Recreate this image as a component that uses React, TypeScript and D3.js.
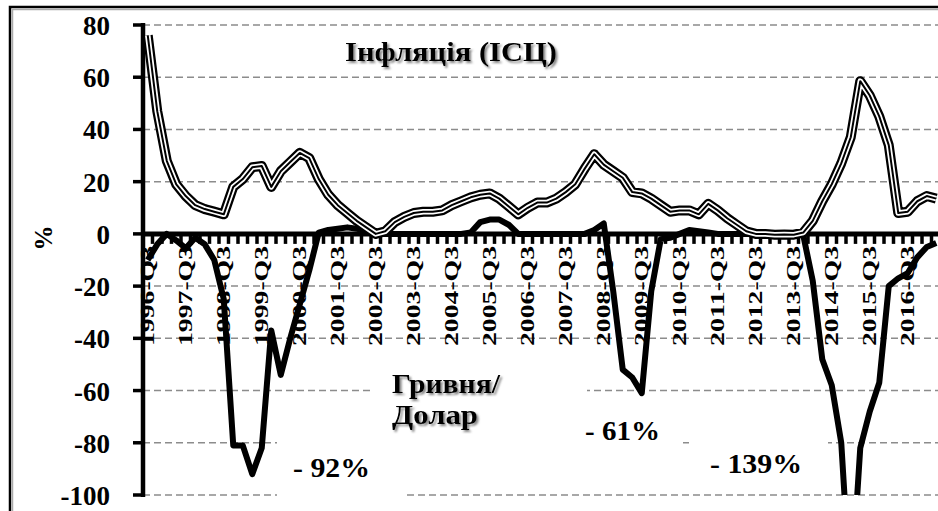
import React from "react";
import * as d3 from "d3";

// quarterly values, 1996-Q3 .. 2017-Q2, % y/y
const inflation = [
  76, 47, 28, 19, 14.5, 11, 9.5, 8.5, 7.5, 18, 21, 25.5, 26, 18, 24, 27.5,
  31, 29, 21, 15, 11, 8, 5, 2.5, 0, 1, 4.5, 6.5, 8, 8.5, 8.5, 9,
  11, 12.5, 14, 15, 15.5, 13.5, 10.5, 7.5, 10, 12, 12, 13.5, 16, 19, 25, 30.5,
  26.5, 24, 21.5, 16, 15.5, 13.5, 11, 8.5, 9, 9, 7.5, 11.5, 9, 6, 3.5, 1,
  0, 0, -0.3, -0.2, -0.3, 0.5, 5, 12.5, 19, 27, 37, 58.5, 53, 45, 34, 8,
  8.5, 12.5, 14.5, 13.5,
];

const hryvnia = [
  -10, -4, 0, -2.5, -5.5, -1.5, -4, -10, -25, -81, -81, -92, -82, -37, -54, -40,
  -27, -14, 0.5, 1.5, 2, 2.5, 2, 1, 0, 0, 0, 0, 0, 0, 0, 0,
  0, 0, 0.5, 4.5, 5.5, 5.5, 3.5, 0, 0, 0, 0, 0, 0, 0, 0, 1.5,
  4, -22, -52, -55, -61, -22, -2, -1.5, 0, 1.5, 1, 0.5, 0, 0, 0, 0,
  0, 0, 0, 0, 0, -0.5, -18, -48, -58, -80, -139, -82, -68, -57, -20, -17,
  -15, -9, -5, -3.5,
];

const yTicks = [80, 60, 40, 20, 0, -20, -40, -60, -80, -100];

const quarters = inflation.map((_, i) => {
  const k = i + 2;
  return `${1996 + Math.floor(k / 4)}-Q${(k % 4) + 1}`;
});
const xTickLabels = quarters.filter((_, i) => i % 4 === 0);

const FONT = "'Liberation Serif', 'Times New Roman', serif";

export default function App() {
  const x = d3
    .scaleBand()
    .domain(quarters)
    .range([143, 143 + 9.5 * quarters.length]);
  const y = d3.scaleLinear().domain([-100, 80]).range([495, 25]);
  const cx = (q: string) => (x(q) as number) + x.bandwidth() / 2;

  const line = d3
    .line<number>()
    .x((_, i) => cx(quarters[i]))
    .y(d => y(d));

  const inflPath = line(inflation) || "";
  const hrnPath = line(hryvnia) || "";

  const boundaries = d3.range(quarters.length + 1).map(k => 143 + k * x.bandwidth());

  return (
    <svg
      width={938}
      height={511}
      style={{ position: "absolute", left: 0, top: 0, background: "#fff" }}
      fontFamily={FONT}
      fontWeight="bold"
    >
      <defs>
        <clipPath id="plot">
          <rect x={130} y={0} width={820} height={y(-100)} />
        </clipPath>
        <filter id="shadow" x="-10%" y="-20%" width="130%" height="150%">
          <feDropShadow dx={2} dy={2} stdDeviation={1.2} floodColor="#666" floodOpacity={0.8} />
        </filter>
      </defs>

      {/* outer frame */}
      <rect x={10} y={7} width={960} height={540} fill="none" stroke="#000" strokeWidth={2.5} />
      <rect x={12.5} y={9.5} width={960} height={540} fill="none" stroke="#aaa" strokeWidth={1.5} />

      {/* gridlines */}
      {yTicks.filter(v => v !== 0).map(v => (
        <line
          key={v}
          x1={143}
          x2={940}
          y1={y(v)}
          y2={y(v)}
          stroke="#8c8c8c"
          strokeWidth={1.5}
          strokeDasharray="7 4"
        />
      ))}

      {/* text boxes covering grid */}
      <rect x={277} y={396} width={130} height={104} fill="#fff" />
      <rect x={372} y={356} width={215} height={92} fill="#fff" />
      <rect x={575} y={405} width={108} height={45} fill="#fff" />
      <rect x={690} y={436} width={138} height={50} fill="#fff" />

      {/* y axis */}
      <line x1={143} x2={143} y1={y(80) - 2} y2={y(-100) + 2} stroke="#000" strokeWidth={4.5} />
      {yTicks.map(v => (
        <g key={v}>
          <line x1={133} x2={143} y1={y(v)} y2={y(v)} stroke="#000" strokeWidth={3.5} />
          <text x={110} y={y(v) + 1} textAnchor="end" dominantBaseline="central" fontSize={27}>
            {v}
          </text>
        </g>
      ))}
      <text
        transform={`translate(43,238) rotate(-90)`}
        textAnchor="middle"
        dominantBaseline="central"
        fontSize={25}
      >
        %
      </text>

      {/* x labels */}
      {xTickLabels.map(q => (
        <text
          key={q}
          transform={`translate(${cx(q)},246) rotate(-90)`}
          textAnchor="end"
          dominantBaseline="central"
          fontSize={19}
          textLength={100}
          lengthAdjust="spacingAndGlyphs"
        >
          {q}
        </text>
      ))}

      {/* x axis */}
      <line x1={141} x2={940} y1={y(0)} y2={y(0)} stroke="#000" strokeWidth={5} />
      {boundaries.map((bx, k) => (
        <line key={k} x1={bx} x2={bx} y1={y(0)} y2={y(0) + 10} stroke="#000" strokeWidth={3.5} />
      ))}

      {/* series */}
      <g clipPath="url(#plot)" fill="none" strokeLinejoin="round">
        <path d={hrnPath} stroke="#000" strokeWidth={6} />
        <path d={inflPath} stroke="#000" strokeWidth={10} />
        <path d={inflPath} stroke="#fff" strokeWidth={5.5} />
        <path d={inflPath} stroke="#000" strokeWidth={2} />
      </g>

      {/* annotations */}
      <text x={345} y={61} fontSize={27} textLength={212} lengthAdjust="spacingAndGlyphs" filter="url(#shadow)">
        Інфляція (ІСЦ)
      </text>
      <text x={392} y={393} fontSize={28} textLength={108} lengthAdjust="spacingAndGlyphs" filter="url(#shadow)">
        Гривня/
      </text>
      <text x={392} y={424} fontSize={28} textLength={86} lengthAdjust="spacingAndGlyphs" filter="url(#shadow)">
        Долар
      </text>
      <text x={293} y={477} fontSize={27} textLength={77} lengthAdjust="spacingAndGlyphs">
        - 92%
      </text>
      <text x={585} y={440} fontSize={27} textLength={75} lengthAdjust="spacingAndGlyphs">
        - 61%
      </text>
      <text x={710} y={473} fontSize={27} textLength={92} lengthAdjust="spacingAndGlyphs">
        - 139%
      </text>
    </svg>
  );
}
